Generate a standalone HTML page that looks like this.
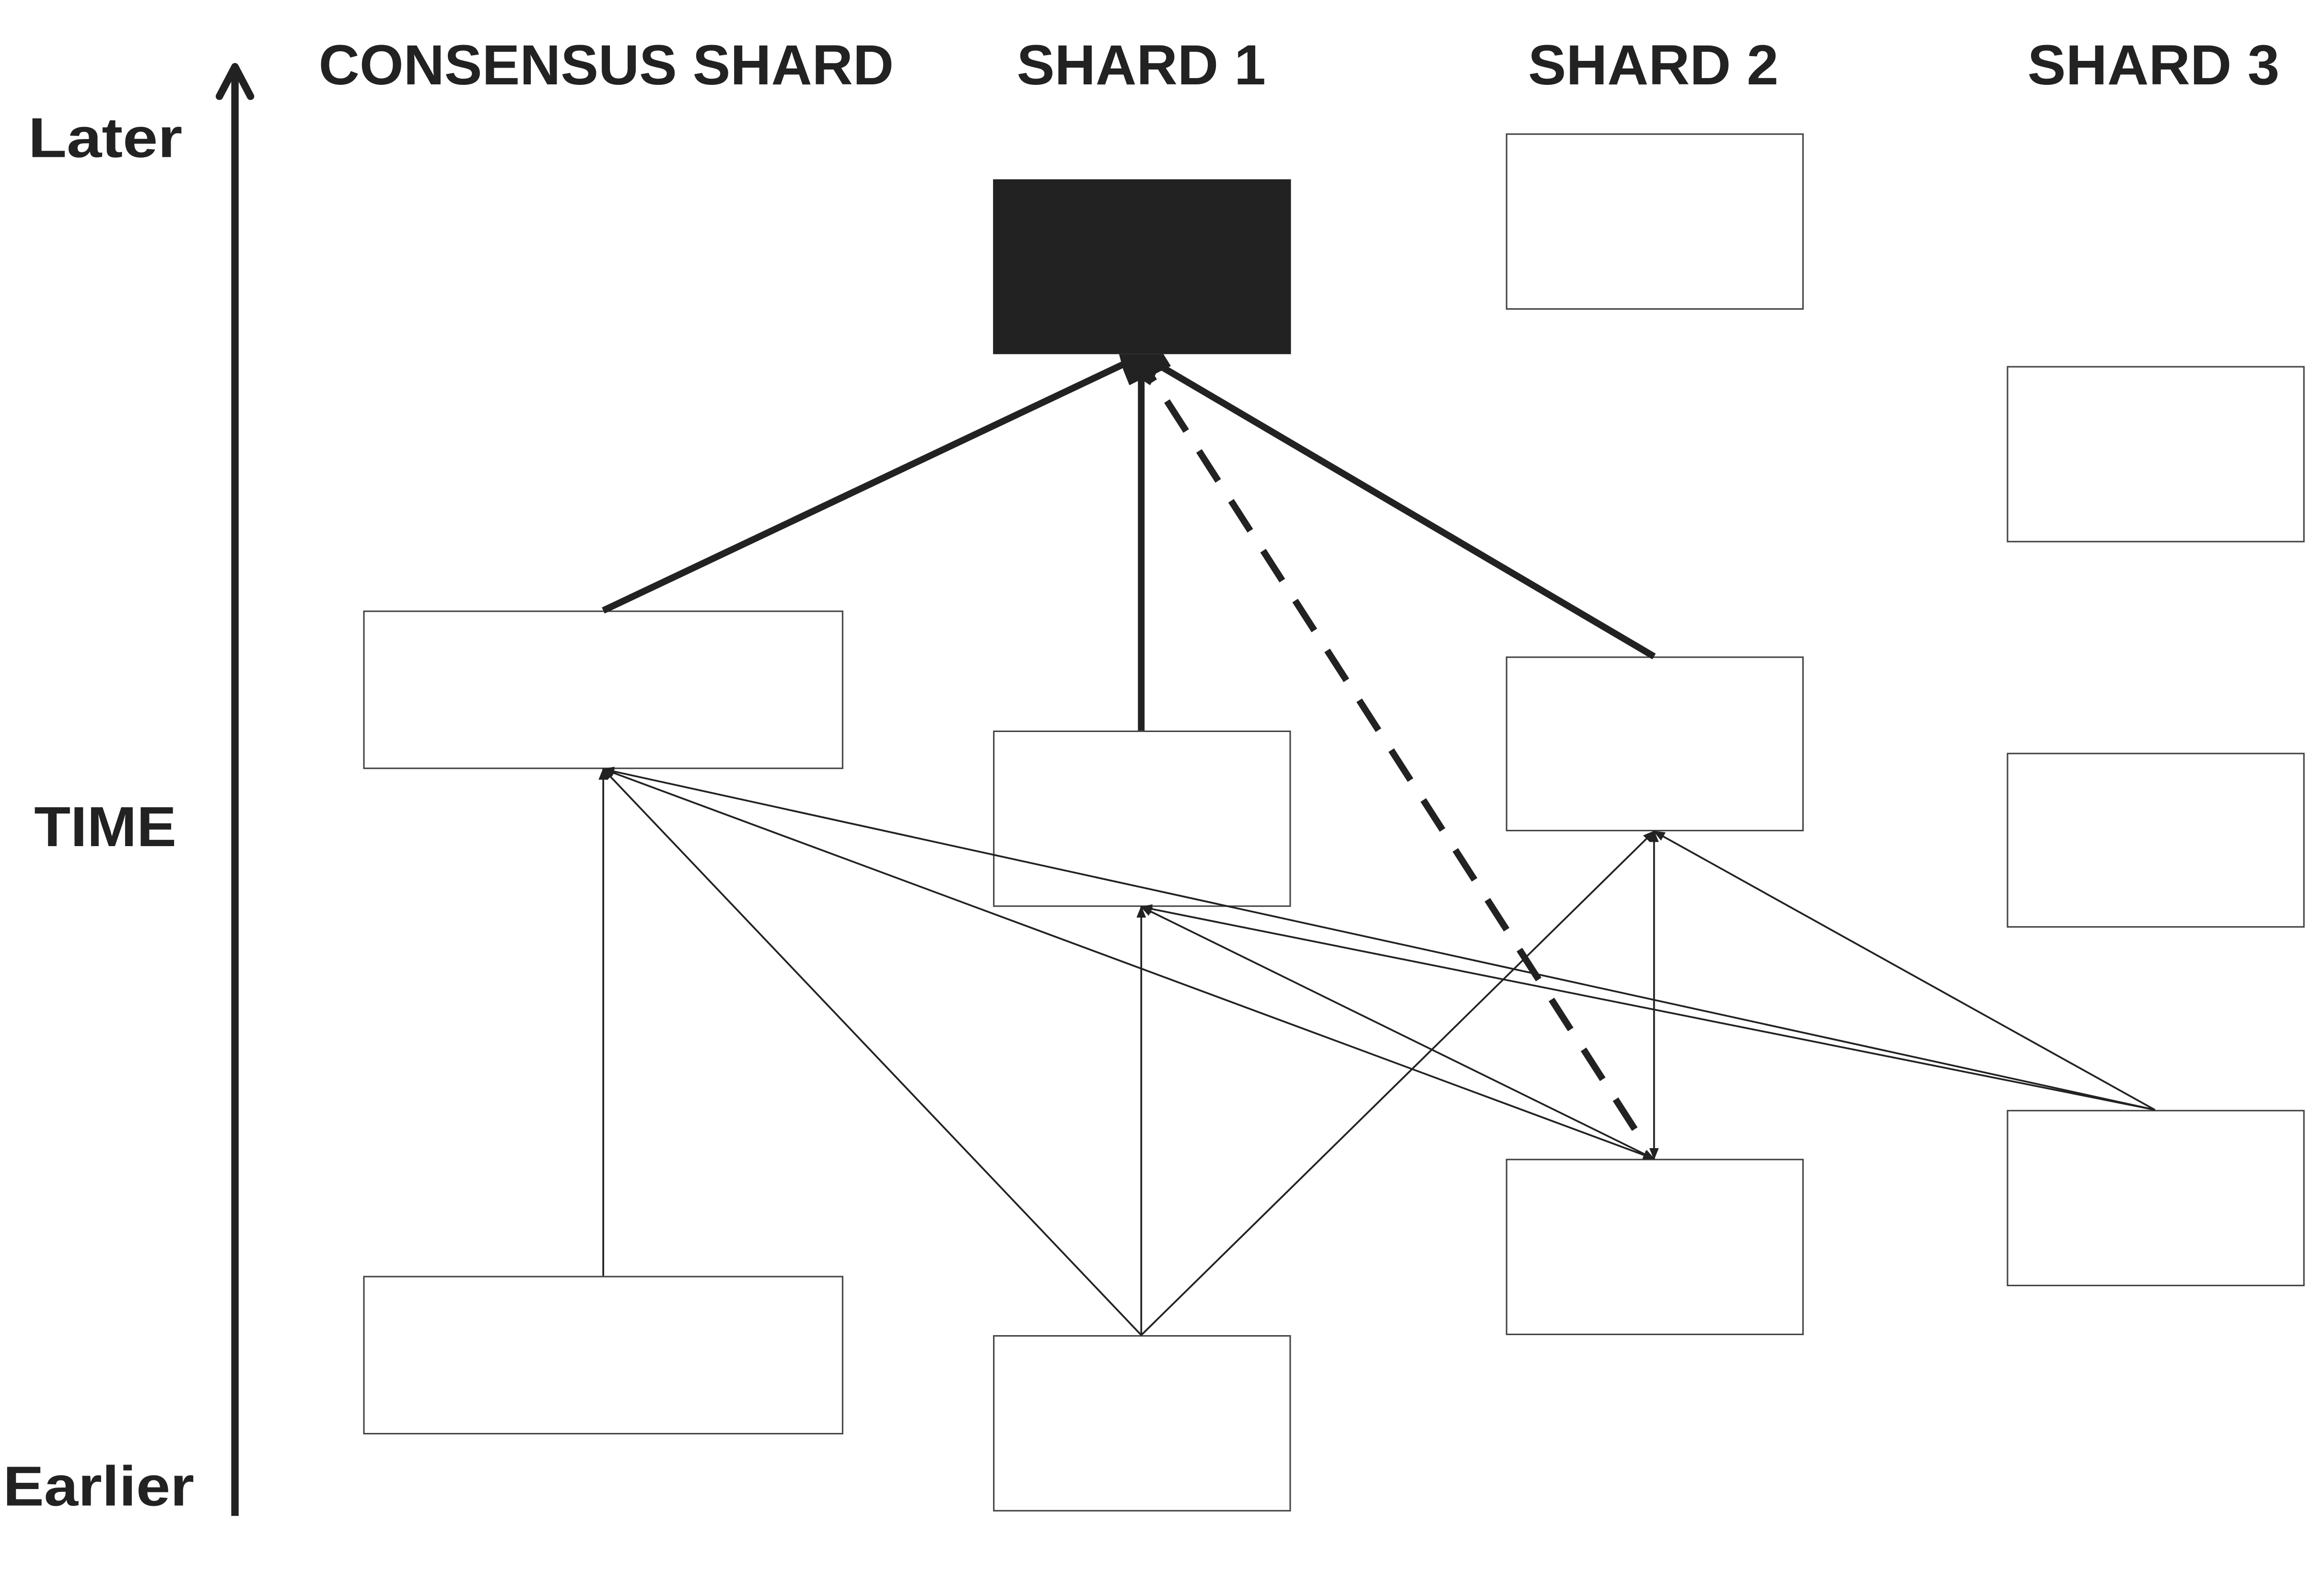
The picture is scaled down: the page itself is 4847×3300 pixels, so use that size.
<!DOCTYPE html>
<html><head><meta charset="utf-8"><style>
html,body{margin:0;padding:0;background:#fff;width:4847px;height:3300px;overflow:hidden}
svg{display:block}
text{font-family:"Liberation Sans",sans-serif;font-weight:bold;fill:#222}
</style></head><body>
<svg width="4847" height="3300" viewBox="0 0 1568 1067.6" xmlns="http://www.w3.org/2000/svg">
<defs>
<marker id="a" viewBox="0 0 10 10" refX="9" refY="5" markerWidth="8" markerHeight="8" markerUnits="userSpaceOnUse" orient="auto"><path d="M0,1 L10,5 L0,9 Z" fill="#222"/></marker>
<marker id="b" viewBox="0 0 10 10" refX="1" refY="5" markerWidth="8" markerHeight="8" markerUnits="userSpaceOnUse" orient="auto"><path d="M10,1 L0,5 L10,9 Z" fill="#222"/></marker>
<marker id="big" viewBox="0 0 10 10" refX="8" refY="5" markerWidth="22" markerHeight="22" markerUnits="userSpaceOnUse" orient="auto"><path d="M0,1 L10,5 L0,9 Z" fill="#222"/></marker>
</defs>
<rect width="1568" height="1068" fill="#fff"/>
<!-- labels -->
<text x="215" y="57" font-size="38" textLength="388" lengthAdjust="spacingAndGlyphs">CONSENSUS SHARD</text>
<text x="686" y="57" font-size="38" textLength="168" lengthAdjust="spacingAndGlyphs">SHARD 1</text>
<text x="1031" y="57" font-size="38" textLength="169" lengthAdjust="spacingAndGlyphs">SHARD 2</text>
<text x="1368" y="57" font-size="38" textLength="170" lengthAdjust="spacingAndGlyphs">SHARD 3</text>
<text x="19" y="106" font-size="38" textLength="104" lengthAdjust="spacingAndGlyphs">Later</text>
<text x="23" y="571" font-size="38" textLength="96" lengthAdjust="spacingAndGlyphs">TIME</text>
<text x="2" y="1016" font-size="38" textLength="129" lengthAdjust="spacingAndGlyphs">Earlier</text>
<!-- time axis -->
<line x1="158.5" y1="1023" x2="158.5" y2="50" stroke="#222" stroke-width="5"/>
<path d="M148,65 L158.5,45 L169,65" fill="none" stroke="#222" stroke-width="5" stroke-linecap="round" stroke-linejoin="round"/>
<!-- boxes -->
<g fill="#fff" stroke="#444" stroke-width="1">
<rect x="1016.5" y="90.5" width="200" height="118"/>
<rect x="1354.5" y="247.5" width="200" height="118"/>
<rect x="245.5" y="412.5" width="323" height="106"/>
<rect x="670.5" y="493.5" width="200" height="118"/>
<rect x="1016.5" y="443.5" width="200" height="117"/>
<rect x="1354.5" y="508.5" width="200" height="117"/>
<rect x="1354.5" y="749.5" width="200" height="118"/>
<rect x="1016.5" y="782.5" width="200" height="118"/>
<rect x="245.5" y="861.5" width="323" height="106"/>
<rect x="670.5" y="901.5" width="200" height="118"/>
</g>
<!-- thin connectors -->
<g stroke="#222" stroke-width="1.2" fill="none">
<line x1="407" y1="861" x2="407" y2="519" marker-end="url(#a)"/>
<line x1="770" y1="901" x2="407" y2="519" marker-end="url(#a)"/>
<line x1="770" y1="901" x2="770" y2="612" marker-end="url(#a)"/>
<line x1="770" y1="901" x2="1116" y2="561" marker-end="url(#a)"/>
<line x1="1116" y1="782" x2="407" y2="519" marker-end="url(#a)" marker-start="url(#b)"/>
<line x1="1116" y1="782" x2="770" y2="612" marker-end="url(#a)" marker-start="url(#b)"/>
<line x1="1116" y1="782" x2="1116" y2="561" marker-end="url(#a)" marker-start="url(#b)"/>
<line x1="1454" y1="749" x2="407" y2="519" marker-end="url(#a)"/>
<line x1="1454" y1="749" x2="770" y2="612" marker-end="url(#a)"/>
<line x1="1454" y1="749" x2="1116" y2="561" marker-end="url(#a)"/>
</g>
<!-- thick connectors -->
<g stroke="#222" stroke-width="4.5" fill="none">
<line x1="407" y1="412" x2="766" y2="242"/>
<line x1="770" y1="493" x2="770" y2="245"/>
<line x1="1116" y1="443" x2="776" y2="243"/>
<line x1="1103" y1="762" x2="776" y2="253" stroke-dasharray="24,16"/>
</g>
<rect x="670" y="121" width="201" height="118" fill="#222"/>
<path d="M755,239 L785,239 L790,247 L780,252 L776,260 L770,256 L762,260 L758,250 Z" fill="#222"/>
</svg>
</body></html>
